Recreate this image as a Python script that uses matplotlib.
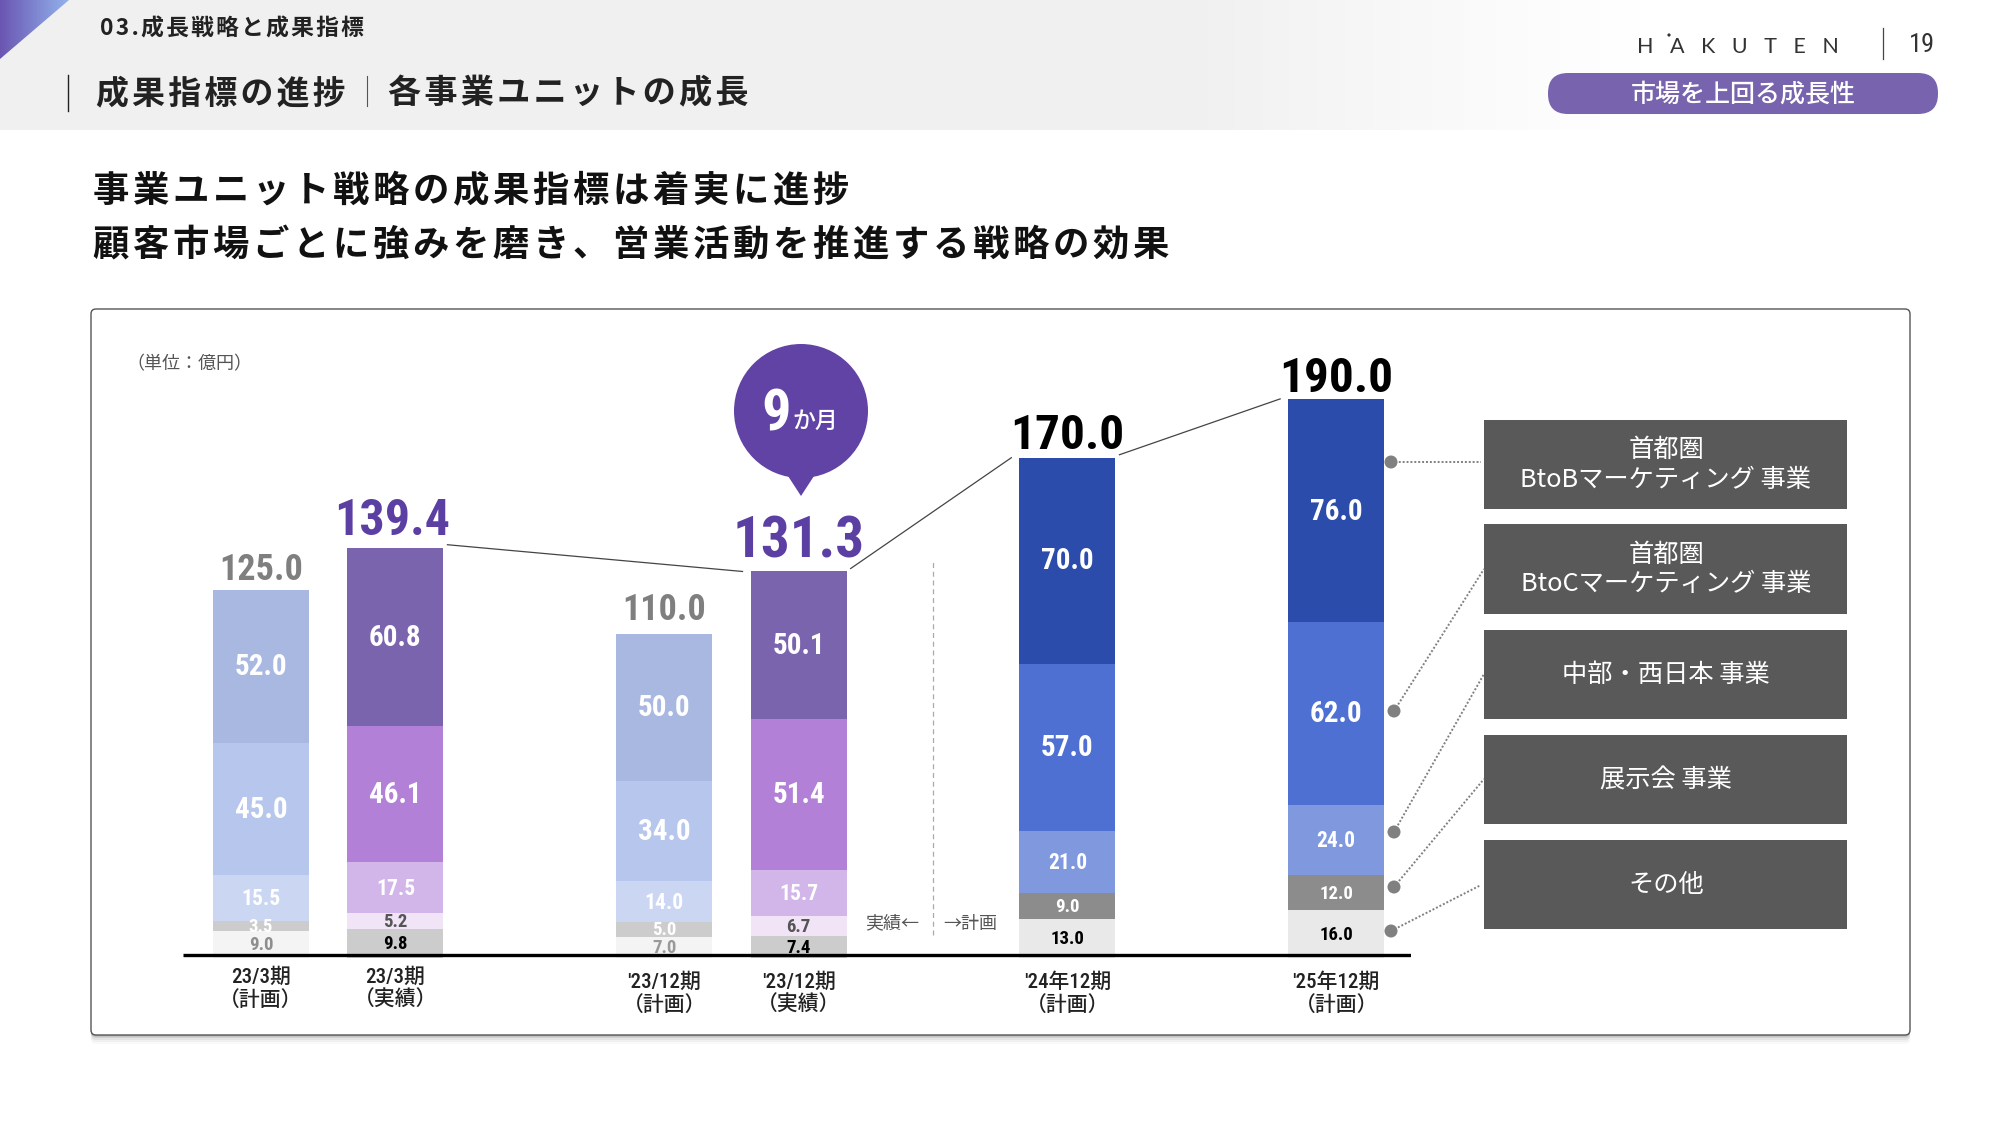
"""HAKUTEN slide 19: business-unit sales progress, stacked bars by period."""
import matplotlib
matplotlib.use("Agg")
import matplotlib.pyplot as plt
import numpy as np
from matplotlib import font_manager as fm
from matplotlib.patches import Circle, FancyBboxPatch, Polygon, Rectangle

plt.rcParams["font.family"] = ["Noto Sans CJK JP", "DejaVu Sans"]

# ── data ─────────────────────────────────────────────────────────────────────
periods = ["23/3期\n（計画）", "23/3期\n（実績）", "'23/12期\n（計画）",
           "'23/12期\n（実績）", "'24年12期\n（計画）", "'25年12期\n（計画）"]
x_pos = [0, 1, 3, 4, 6, 8]
totals = [125.0, 139.4, 110.0, 131.3, 170.0, 190.0]

# stacked bottom to top: その他, 展示会, 中部・西日本, BtoC, BtoB
other = [9.0, 9.8, 7.0, 7.4, 13.0, 16.0]
expo = [3.5, 5.2, 5.0, 6.7, 9.0, 12.0]
chubu = [15.5, 17.5, 14.0, 15.7, 21.0, 24.0]
btoc = [45.0, 46.1, 34.0, 51.4, 57.0, 62.0]
btob = [52.0, 60.8, 50.0, 50.1, 70.0, 76.0]
series = [other, expo, chubu, btoc, btob]

units = ["首都圏\nBtoBマーケティング 事業", "首都圏\nBtoCマーケティング 事業",
         "中部・西日本 事業", "展示会 事業", "その他"]

# ── styles ───────────────────────────────────────────────────────────────────
PLAN_FADE = ["#F4F4F4", "#CCCCCC", "#CBD6F2", "#B6C6EC", "#A9B8E0"]
ACTUAL = ["#CCCCCC", "#F0E4F6", "#D2B5E9", "#B280D6", "#7A64AE"]
PLAN = ["#E9E9E9", "#8C8C8C", "#7F98DE", "#4E70D2", "#2B4CAB"]
bar_colors = [PLAN_FADE, ACTUAL, PLAN_FADE, ACTUAL, PLAN, PLAN]
label_colors = [
    ["#8E8E8E", "white", "white", "white", "white"],
    ["black", "#555555", "white", "white", "white"],
    ["#9A9A9A", "white", "white", "white", "white"],
    ["black", "#555555", "white", "white", "white"],
    ["black", "white", "white", "white", "white"],
    ["black", "white", "white", "white", "white"],
]
seg_sizes = [13.5, 13.5, 15.5, 21, 21]
total_sizes = [26, 36, 26, 41, 35.5, 35.5]
total_colors = ["#7F7F7F", "#5B3FA3", "#7F7F7F", "#5B3FA3", "black", "black"]
total_gaps = [10, 13, 14, 14, 9, 7]
total_shift = [0, -3, 0, 0, 0, 0]
label_y = [976, 976, 981, 981, 981, 981]

names = {f.name for f in fm.fontManager.ttflist}
NARROW = [n for n in ["Liberation Sans Narrow", "Roboto Condensed", "Noto Sans Condensed",
                      "Open Sans Condensed", "DejaVu Sans Condensed"] if n in names][:1]
NUM = NARROW + ["Noto Sans CJK JP", "DejaVu Sans"]
JP = ["Noto Sans CJK JP", "DejaVu Sans"]


def spaced(s):
    # letter-spaced headings, hair spaces come from DejaVu
    return "\u200a".join(s)


fig = plt.figure(figsize=(20, 11.25), dpi=100, facecolor="white")

# pixel canvas for everything around the chart
bg = fig.add_axes([0, 0, 1, 1], zorder=0)
bg.axis("off")

# header band, fading to white on the right
fade = np.interp(np.arange(2000), [0, 1180, 1400, 1560, 1640], [240, 240, 248, 253, 255]) / 255
band = np.dstack([fade, fade, fade]).reshape(1, 2000, 3)
bg.imshow(band, extent=(0, 2000, 130, 0), aspect="auto", zorder=1)

# corner triangle
tri = Polygon([(0, 0), (69, 0), (0, 59)], closed=True, transform=bg.transData, fc="none", ec="none")
bg.add_patch(tri)
grad = np.linspace(0, 1, 70)
c0, c1 = np.array([0x6A, 0x56, 0xB2]) / 255, np.array([0x92, 0xB2, 0xEC]) / 255
tri_img = np.array([[c0 + (c1 - c0) * g for g in grad]])
im = bg.imshow(tri_img, extent=(0, 69, 59, 0), aspect="auto", zorder=2)
im.set_clip_path(tri)

bg.set_xlim(0, 2000)
bg.set_ylim(1125, 0)


def t(x, y, s, **kw):
    kw.setdefault("ha", "center")
    kw.setdefault("va", "center")
    kw.setdefault("zorder", 6)
    kw.setdefault("family", JP)
    bg.text(x, y + 2, s, **kw)


t(100, 27, spaced("03.成長戦略と成果指標"), ha="left", fontsize=16.4, color="#222222", weight="bold")
bg.plot([68, 68], [75, 111], color="#222222", lw=1, zorder=5)
t(96, 92, spaced("成果指標の進捗"), ha="left", fontsize=23.7, color="#222222", weight="bold")
bg.plot([367, 367], [76, 106], color="#555555", lw=0.8, zorder=5)
t(388, 92, spaced("各事業ユニットの成長"), ha="left", fontsize=23.9, color="#222222", weight="bold")

t(93, 190, spaced("事業ユニット戦略の成果指標は着実に進捗"), ha="left", fontsize=26.2, color="#111111", weight="bold")
t(93, 244, spaced("顧客市場ごとに強みを磨き、営業活動を推進する戦略の効果"), ha="left", fontsize=26.2,
  color="#111111", weight="bold")

# logo, page number, pill
t(1738, 45, "H   A   K   U   T   E   N", fontsize=15.5, color="#333333", family=["Lato", "DejaVu Sans"])
bg.add_patch(Circle((1669, 35), 1.6, fc="#333333", ec="none", zorder=6))
bg.plot([1883, 1883], [28, 59], color="#444444", lw=0.9, zorder=5)
t(1922, 43, "19", fontsize=19, color="#333333", family=NUM)
bg.add_patch(FancyBboxPatch((1548 + 20, 73 + 20), 390 - 40, 41 - 40 + 0.01,
                            boxstyle="round,pad=20", fc="#7864AE", ec="none", zorder=4))
t(1743, 93, "市場を上回る成長性", fontsize=18, color="white", weight="medium")

# panel with soft shadow
for off, a in [(9, 0.025), (7, 0.035), (5, 0.05), (3, 0.08), (1.5, 0.12)]:
    bg.add_patch(FancyBboxPatch((91 + 5, 309 + 5 + off), 1819 - 10, 726 - 10,
                                boxstyle="round,pad=5", fc="#000000", ec="none", alpha=a, zorder=2))
bg.add_patch(FancyBboxPatch((91 + 5, 309 + 5), 1819 - 10, 726 - 10, boxstyle="round,pad=5",
                            fc="white", ec="#555555", lw=1, zorder=3))
t(126, 362, "（単位：億円）", ha="left", fontsize=13, color="#555555")

# speech bubble
bg.add_patch(Circle((801, 411), 67, fc="#6043A5", ec="none", zorder=4))
bg.add_patch(Polygon([(788, 476), (814, 476), (801, 496)], closed=True, fc="#6043A5", ec="none", zorder=4))
t(776, 413, "9", fontsize=42, color="white", weight="bold", family=NUM)
t(815, 419, "か月", fontsize=16.5, color="white", weight="medium")

# unit boxes and their dotted leaders
box_y = [(420, 509), (524, 614), (630, 719), (735, 824), (840, 929)]
text_y = [(448, 478), (553, 582), (673,), (778,), (883,)]
dots = [(1391, 462), (1394, 711), (1394, 832), (1394, 887), (1391, 931)]
ends = [(1481, 462), (1484, 569), (1484, 674), (1484, 779), (1481, 885)]
for name, (y0, y1), ys, d, e in zip(units, box_y, text_y, dots, ends):
    bg.add_patch(Rectangle((1484, y0), 363, y1 - y0, fc="#595959", ec="none", zorder=4))
    for line, y in zip(name.split("\n"), ys):
        t(1666, y, line, fontsize=18.2, color="white")
    bg.plot([d[0], e[0]], [d[1], e[1]], color="#808080", lw=1.4, ls=(0, (1, 1)), zorder=4)
    bg.add_patch(Circle(d, 6.5, fc="#808080", ec="none", zorder=5))

# ── chart axes: y=0 just under the baseline rule, 2.94 px per 億円, 134.4 px per slot ──
PX_Y = 2.94
PX_X = 134.4
X0 = 261
left, right, top, base = 183, 1411, 330, 957.5
ax = fig.add_axes([left / 2000, (1125 - base) / 1125, (right - left) / 2000, (base - top) / 1125],
                  zorder=1, facecolor="none")
ax.set_xlim((left - X0) / PX_X, (right - X0) / PX_X)
ax.set_ylim(0, (base - top) / PX_Y)
ax.axis("off")

BAR_W = 96 / PX_X
bottoms = np.zeros(len(x_pos))
for k, vals in enumerate(series):
    cols = [c[k] for c in bar_colors]
    ax.bar(x_pos, vals, BAR_W, bottom=bottoms, color=cols, linewidth=0, zorder=2)
    for i, v in enumerate(vals):
        ax.text(x_pos[i], bottoms[i] + v / 2 - 0.3, f"{v:.1f}", ha="center", va="center", fontsize=seg_sizes[k],
                color=label_colors[i][k], weight="bold", family=NUM, zorder=3)
    bottoms += np.array(vals)

# baseline rule
ax.plot(ax.get_xlim(), [(base - 955) / PX_Y] * 2, color="black", lw=2.4, zorder=5, solid_capstyle="butt")

for i, tot in enumerate(totals):
    ax.annotate(f"{tot:.1f}", xy=(x_pos[i], tot), xytext=(total_shift[i] * 0.72, total_gaps[i] * 0.72),
                textcoords="offset points", ha="center", va="baseline", fontsize=total_sizes[i],
                color=total_colors[i], weight="bold", family=NUM, zorder=4, annotation_clip=False)

# links between the actual and planned totals
links = [(1, 3), (3, 4), (4, 5)]
for a, b in links:
    ax.plot([x_pos[a] + BAR_W / 2 + 0.03, x_pos[b] - BAR_W / 2 - 0.06], [totals[a] + 1, totals[b]],
            color="#444444", lw=0.9, zorder=1, clip_on=False)

# actual / plan divider
ax.plot([5, 5], [7.5, 135], color="#AAAAAA", lw=0.9, ls=(0, (4, 3)), zorder=1)
ax.text(4.96 - 0.06, 11.5, "実績←", ha="right", va="center", fontsize=13, color="#555555", family=JP)
ax.text(5.06 + 0.02, 11.5, "→計画", ha="left", va="center", fontsize=13, color="#555555", family=JP)

# period labels under the baseline
for i, lab in enumerate(periods):
    ax.text(x_pos[i], -(label_y[i] - 9 - base) / PX_Y, lab, ha="center", va="top", fontsize=15,
            color="#222222", family=NUM, weight="medium", linespacing=1.2, clip_on=False)

fig.savefig("out.png", dpi=100, facecolor="white")
